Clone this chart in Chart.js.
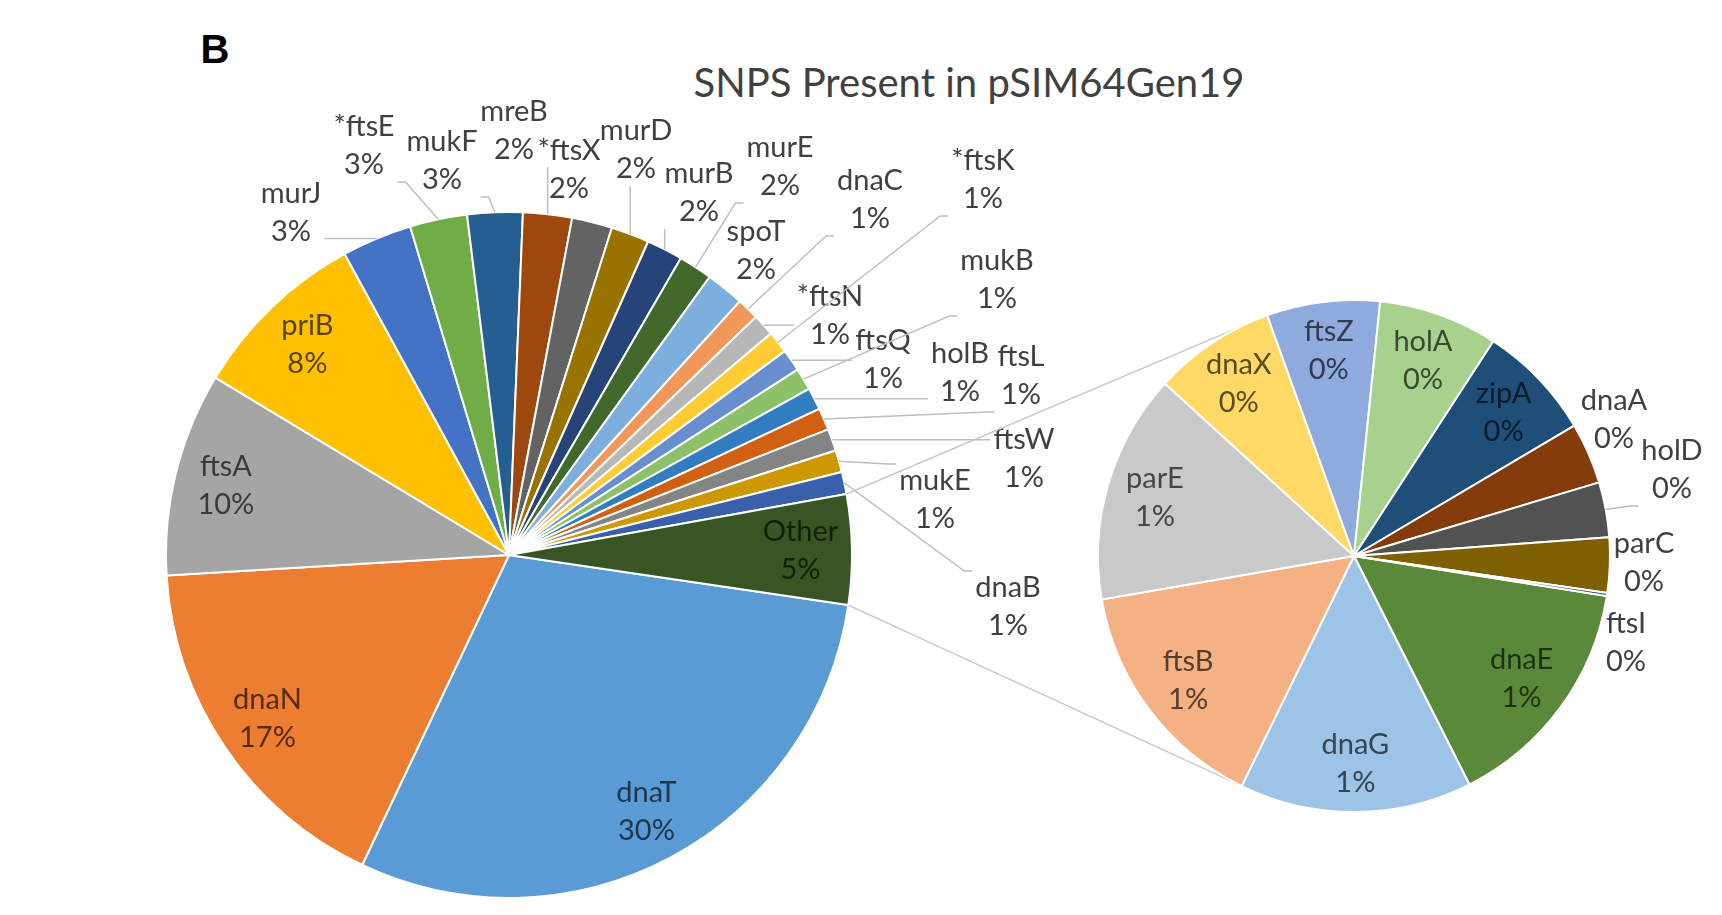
<!DOCTYPE html>
<html>
<head>
<meta charset="utf-8">
<title>SNPS Present in pSIM64Gen19</title>
<script src="https://cdn.jsdelivr.net/npm/chart.js@4/dist/chart.umd.min.js"></script>
<style>
  body { margin: 0; background: #fff; }
  #wrap { position: relative; width: 1722px; height: 915px; overflow: hidden; }
  #wrap canvas { position: absolute; left: 0; top: 0; }
  .txt { position: absolute; white-space: nowrap; transform: translate(-50%, -50%); line-height: 1; }
  #panel { left: 215px; top: 49px; font: bold 40px "Liberation Sans", Arial, sans-serif; color: #000; }
  #title { left: 969px; top: 82px; font: 40px Lato, "Open Sans", sans-serif; color: #404040; }
</style>
</head>
<body>
<div id="wrap">
  <div id="panel" class="txt">B</div>
  <div id="title" class="txt">SNPS Present in pSIM64Gen19</div>
  <canvas id="mainPie" width="1722" height="915"></canvas>
  <canvas id="subPie" width="1722" height="915"></canvas>
</div>
<script>
// genes on the main pie (percent of all SNPs), clockwise from dnaT
const mainNames = ['dnaT', 'dnaN', 'ftsA', 'priB', 'murJ', '*ftsE', 'mukF', 'mreB', '*ftsX', 'murD',
  'murB', 'murE', 'spoT', 'dnaC', '*ftsN', '*ftsK', 'ftsQ', 'mukB', 'holB', 'ftsL', 'ftsW', 'mukE', 'dnaB'];
const mainValues = [29.7, 17.0, 9.6, 8.4, 3.3, 2.7, 2.6, 2.3, 1.9, 1.8,
  1.7, 1.6, 1.8, 1.04, 1.04, 1.04, 1.04, 1.04, 1.04, 1.04, 1.04, 1.04, 1.04];

// genes split out of "Other" into the second pie
const subNames = ['dnaE', 'dnaG', 'ftsB', 'parE', 'dnaX', 'ftsZ', 'holA', 'zipA', 'dnaA', 'holD', 'parC', 'ftsI'];
const subValues = [0.78, 0.76, 0.78, 0.75, 0.40, 0.37, 0.39, 0.38, 0.20, 0.18, 0.18, 0.01];

const otherTotal = subValues.reduce((a, b) => a + b, 0);
const grandTotal = mainValues.reduce((a, b) => a + b, 0) + otherTotal;

const mainColours = ['#5B9BD5', '#ED7D31', '#A5A5A5', '#FFC000', '#4472C4', '#70AD47', '#255E91', '#9E480E',
  '#636363', '#997300', '#264478', '#43682B', '#7CAFDD', '#F1975A', '#B7B7B7', '#FFCD33', '#698ED0',
  '#8CC168', '#327DC2', '#D26012', '#848484', '#CC9A00', '#3A5FAB', '#375623'];
const subColours = ['#5A8A39', '#9DC3E6', '#F4B183', '#C9C9C9', '#FFD966', '#8FAADC', '#A9D18E',
  '#1F4E79', '#843C0C', '#525252', '#7F6000', '#203864'];

// where the labels that sit outside the slices go (centre of the two-line block)
const mainOutside = {
  'murJ': [291, 213], '*ftsE': [364, 146], 'mukF': [442, 161], 'mreB': [514, 131], '*ftsX': [569, 170],
  'murD': [636, 150], 'murB': [699, 193], 'murE': [780, 167], 'spoT': [756, 251], 'dnaC': [870, 200],
  '*ftsK': [983, 180], 'mukB': [997, 280], '*ftsN': [830, 316], 'ftsQ': [883, 360], 'holB': [960, 373],
  'ftsL': [1021, 376], 'ftsW': [1024, 459], 'mukE': [935, 500], 'dnaB': [1008, 607],
};
const subOutside = {
  'dnaA': [1614, 420], 'holD': [1672, 470], 'parC': [1644, 563], 'ftsI': [1626, 643],
};

const darken = (hex, f) => {
  const n = parseInt(hex.slice(1), 16);
  const r = Math.round(((n >> 16) & 255) * f);
  const g = Math.round(((n >> 8) & 255) * f);
  const b = Math.round((n & 255) * f);
  return `rgb(${r}, ${g}, ${b})`;
};

// two-line "name / pct%" labels, inside the slice or outside with a leader line
const sliceLabels = {
  id: 'sliceLabels',
  afterDatasetsDraw(chart, args, opts) {
    const { ctx } = chart;
    const arcs = chart.getDatasetMeta(0).data;
    const ds = chart.data.datasets[0];
    const lh = opts.lineHeight;
    ctx.save();
    ctx.font = opts.font;
    ctx.textAlign = 'center';
    ctx.textBaseline = 'middle';
    arcs.forEach((arc, i) => {
      const name = chart.data.labels[i];
      const lines = [name, Math.round((ds.data[i] / grandTotal) * 100) + '%'];
      const mid = (arc.startAngle + arc.endAngle) / 2;
      const spot = opts.outside[name];
      let x;
      let y;
      if (spot) {
        [x, y] = spot;
        ctx.fillStyle = opts.outsideColour;
        const hw = Math.max(...lines.map((t) => ctx.measureText(t).width)) / 2 + 3;
        const hh = lh / 2 + 17;
        const ex = arc.x + Math.cos(mid) * arc.outerRadius;
        const ey = arc.y + Math.sin(mid) * arc.outerRadius;
        const ax = Math.min(Math.max(ex, x - hw), x + hw);
        const ay = Math.min(Math.max(ey, y - hh), y + hh);
        if (Math.hypot(ax - ex, ay - ey) > 18) {
          ctx.beginPath();
          ctx.strokeStyle = opts.leaderColour;
          ctx.lineWidth = 1.5;
          ctx.moveTo(ex, ey);
          if (ax === x - hw) {
            ctx.lineTo(ax - 8, ay);
          } else if (ax === x + hw) {
            ctx.lineTo(ax + 8, ay);
          }
          ctx.lineTo(ax, ay);
          ctx.stroke();
        }
      } else {
        const r = arc.outerRadius * opts.inset;
        x = arc.x + Math.cos(mid) * r;
        y = arc.y + Math.sin(mid) * r;
        ctx.fillStyle = darken(ds.backgroundColor[i], 0.35);
      }
      ctx.fillText(lines[0], x, y - lh / 2);
      ctx.fillText(lines[1], x, y + lh / 2);
    });
    ctx.restore();
  },
};

const baseOptions = (padding, rotation, outside, inset) => ({
  responsive: false,
  animation: false,
  devicePixelRatio: 1,
  events: [],
  rotation,
  layout: { padding },
  plugins: {
    legend: { display: false },
    tooltip: { enabled: false },
    title: { display: false },
    sliceLabels: {
      font: '29px Lato, "Open Sans", sans-serif',
      lineHeight: 38,
      inset,
      outside,
      outsideColour: '#404040',
      leaderColour: '#BFBFBF',
    },
  },
});

const mainChart = new Chart(document.getElementById('mainPie'), {
  type: 'pie',
  data: {
    labels: [...mainNames, 'Other'],
    datasets: [{
      data: [...mainValues, otherTotal],
      backgroundColor: mainColours,
      borderColor: '#fff',
      borderWidth: 2,
    }],
  },
  options: baseOptions({ left: 165, top: 211, right: 869, bottom: 16 }, 98.4, mainOutside, 0.85),
  plugins: [sliceLabels],
});

// lines from the edges of the "Other" slice to the second pie
const connectors = {
  id: 'connectors',
  beforeDatasetsDraw(chart) {
    const other = mainChart.getDatasetMeta(0).data[mainNames.length];
    const sub = chart.getDatasetMeta(0).data[0];
    const spread = (63 * Math.PI) / 180;
    const { ctx } = chart;
    ctx.save();
    ctx.strokeStyle = '#C8C8C8';
    ctx.lineWidth = 1.5;
    [[other.startAngle, Math.PI + spread], [other.endAngle, Math.PI - spread]].forEach(([a, b]) => {
      ctx.beginPath();
      ctx.moveTo(other.x + Math.cos(a) * other.outerRadius, other.y + Math.sin(a) * other.outerRadius);
      ctx.lineTo(sub.x + Math.cos(b) * sub.outerRadius, sub.y + Math.sin(b) * sub.outerRadius);
      ctx.stroke();
    });
    ctx.restore();
  },
};

new Chart(document.getElementById('subPie'), {
  type: 'pie',
  data: {
    labels: subNames,
    datasets: [{
      data: subValues,
      backgroundColor: subColours,
      borderColor: '#fff',
      borderWidth: 2,
    }],
  },
  options: baseOptions({ left: 1097, top: 299, right: 111, bottom: 102 }, 99, subOutside, 0.81),
  plugins: [connectors, sliceLabels],
});
</script>
</body>
</html>
